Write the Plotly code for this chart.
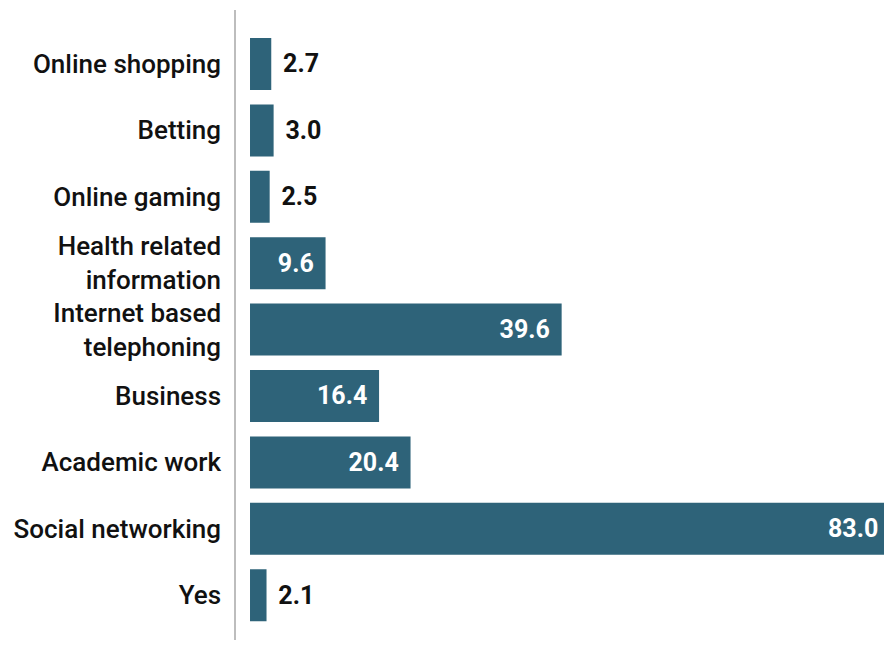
import plotly.graph_objects as go

categories = ["Online shopping", "Betting", "Online gaming", "Health related<br>information",
              "Internet based<br>telephoning", "Business", "Academic work", "Social networking", "Yes"]
values = [2.7, 3.0, 2.5, 9.6, 39.6, 16.4, 20.4, 83.0, 2.1]

BAR = "#2e6379"
PAD = "\u00a0\u200a"
X_MIN, X_MAX = -1.78, 80.56
positions = ["inside" if v > 5 else "outside" for v in values]
templates = []
for v, p in zip(values, positions):
    if p == "outside":
        templates.append(PAD + "%{x:.1f}")
    elif v <= X_MAX:
        templates.append("%{x:.1f}" + PAD)
    else:
        templates.append(" ")

fig = go.Figure(go.Bar(
    x=values, y=categories, orientation="h",
    marker=dict(color=BAR, line=dict(width=0)),
    texttemplate=templates, textposition=positions,
    insidetextanchor="end", textangle=0,
    insidetextfont=dict(color="white", size=25, family="Roboto", weight=700),
    outsidetextfont=dict(color="#111111", size=25, family="Roboto", weight=700),
    constraintext="none", cliponaxis=True, hoverinfo="skip",
))

# label for bars running past the visible edge
for c, v in zip(categories, values):
    if v > X_MAX:
        fig.add_annotation(x=X_MAX, y=c, xref="x", yref="y", text=f"{v:.1f}",
                           xanchor="right", yanchor="middle", showarrow=False, xshift=-4,
                           font=dict(color="white", size=25, family="Roboto", weight=700))

fig.update_layout(
    width=876, height=632,
    margin=dict(l=228, r=0, t=2, b=0),
    paper_bgcolor="white", plot_bgcolor="white",
    bargap=0.217, showlegend=False,
    font=dict(family="Roboto", color="#111111"),
)
fig.update_xaxes(range=[X_MIN, X_MAX], visible=False, showgrid=False, zeroline=False)
fig.update_yaxes(
    categoryorder="array", categoryarray=categories,
    range=[8.675, -0.813],
    showline=True, linecolor="#bdbdbd", linewidth=1.5,
    showgrid=False, zeroline=False, ticks="",
    ticklabelstandoff=8,
    tickfont=dict(family="Roboto", size=26, color="#111111", weight=500),
)

fig.write_html("out.html")
